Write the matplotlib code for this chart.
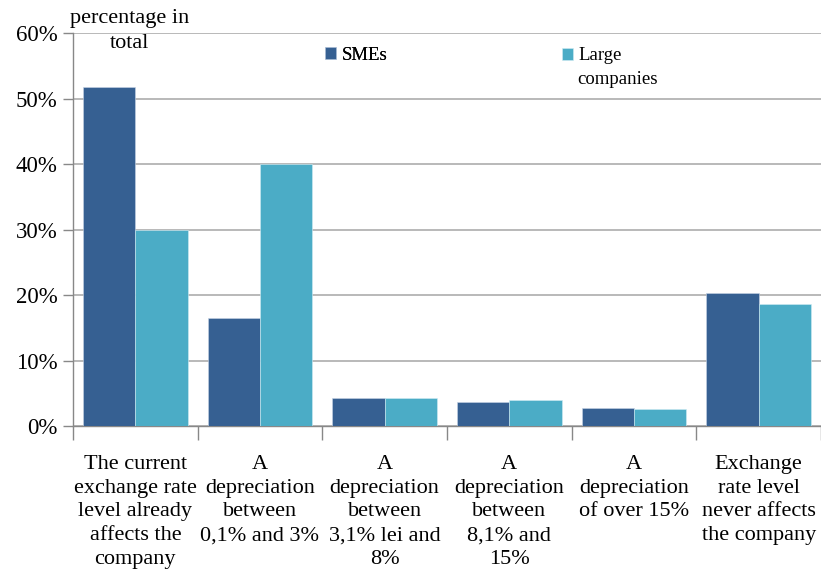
import matplotlib
matplotlib.use("Agg")
import matplotlib.pyplot as plt
import numpy as np
from matplotlib.ticker import FuncFormatter, FixedLocator

categories = [
    "The current\nexchange rate\nlevel already\naffects the\ncompany",
    "A\ndepreciation\nbetween\n0,1% and 3%",
    "A\ndepreciation\nbetween\n3,1% lei and\n8%",
    "A\ndepreciation\nbetween\n8,1% and\n15%",
    "A\ndepreciation\nof over 15%",
    "Exchange\nrate level\nnever affects\nthe company",
]
smes = [51.8, 16.5, 4.3, 3.6, 2.8, 20.3]
large = [30.0, 40.0, 4.3, 4.0, 2.6, 18.7]
yticks = [0, 10, 20, 30, 40, 50, 60]

dark = "#366092"
aqua = "#4bacc6"
grid = "#b3b3b3"

plt.rcParams["font.family"] = ["Liberation Serif", "DejaVu Serif"]

fig = plt.figure(figsize=(8.21, 5.73), dpi=100)
ax = fig.add_axes([0.0889, 0.2565, 0.9111, 0.6859])

x = np.arange(len(categories))
w = 0.42
b1 = ax.bar(x - w / 2, smes, width=w, color=dark, edgecolor="#c8d4e6",
            linewidth=0.4, zorder=3, label="SMEs")
b2 = ax.bar(x + w / 2, large, width=w, color=aqua, edgecolor="#d0ecf3",
            linewidth=0.4, zorder=3, label="Large")

ax.set_xlim(-0.5, len(categories) - 0.5)
ax.set_ylim(0, 60)
ax.set_yticks(yticks)
ax.yaxis.set_major_formatter(FuncFormatter(lambda v, p: "%d%%" % v))
ax.grid(axis="y", color=grid, linewidth=1.3, zorder=0)

ax.set_xticks(x)
ax.set_xticklabels(categories, fontsize=16, linespacing=1.33)
ax.xaxis.set_minor_locator(FixedLocator(np.arange(-0.5, len(categories), 1)))
ax.tick_params(axis="x", which="major", length=0, pad=21)
ax.tick_params(axis="x", which="minor", length=10, color="#888888", width=1)
ax.tick_params(axis="y", labelsize=16.5, length=7, color="#888888", width=1, pad=4)

for side in ["top", "right"]:
    ax.spines[side].set_visible(False)
ax.spines["left"].set_color("#888888")
ax.spines["bottom"].set_color("#888888")
ax.spines["left"].set_linewidth(1)
ax.spines["bottom"].set_linewidth(1)

fig.text(130 / 821, 1 - 31 / 573, "percentage in\ntotal", ha="center",
         va="center", fontsize=16, linespacing=1.45)

legend_kw = dict(loc="center left", frameon=False, fontsize=13.5,
                 handlelength=0.6, handleheight=0.6, handletextpad=0.3,
                 borderaxespad=0, borderpad=0)
leg1 = fig.legend(handles=[b1], bbox_to_anchor=(325 / 821, 1 - 55 / 573),
                  **legend_kw)
leg2 = fig.legend(handles=[b2], bbox_to_anchor=(562 / 821, 1 - 56 / 573),
                  **legend_kw)
fig.add_artist(leg1)
fig.text(577 / 821, 1 - 79 / 573, "companies", ha="left", va="center",
         fontsize=13.5)

fig.savefig("out.png", dpi=100)
